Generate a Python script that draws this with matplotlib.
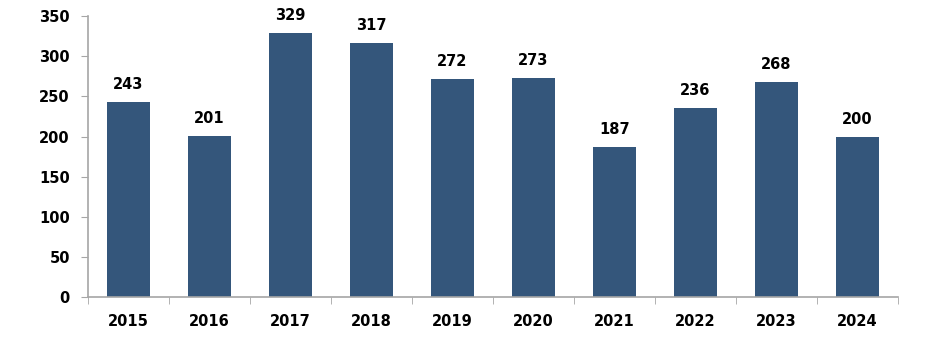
import matplotlib.pyplot as plt

years = ['2015', '2016', '2017', '2018', '2019', '2020', '2021', '2022', '2023', '2024']
counts = [243, 201, 329, 317, 272, 273, 187, 236, 268, 200]

plt.rcParams['font.family'] = ['DejaVu Sans']
plt.rcParams['font.weight'] = 'bold'

fig = plt.figure(figsize=(9.36, 3.58), dpi=100)
ax = fig.add_axes([0.094, 0.170, 0.865, 0.785])

x = range(len(years))
bars = ax.bar(x, counts, width=0.53, color='#34567B', zorder=2)
for b, v in zip(bars, counts):
    ax.annotate(str(v), (b.get_x() + b.get_width() / 2, v), xytext=(0, 7),
                textcoords='offset points', ha='center', va='bottom',
                fontsize=10.5, fontweight='bold')

ax.set_xlim(-0.5, len(years) - 0.5)
ax.set_ylim(0, 350)
ax.set_yticks(range(0, 351, 50))
ax.set_xticks(x)
ax.set_xticklabels(years)
ax.set_xticks([i + 0.5 for i in range(-1, len(years))], minor=True)
ax.tick_params(axis='x', which='major', length=0, pad=12, labelsize=10.5)
ax.tick_params(axis='x', which='minor', length=5, color='#A6A6A6', direction='out')
ax.tick_params(axis='y', length=5, color='#A6A6A6', pad=8, labelsize=10.5)
for side in ['top', 'right']:
    ax.spines[side].set_visible(False)
for side in ['left', 'bottom']:
    ax.spines[side].set_color('#A6A6A6')
    ax.spines[side].set_linewidth(1.2)

fig.savefig('out.png', dpi=100)
